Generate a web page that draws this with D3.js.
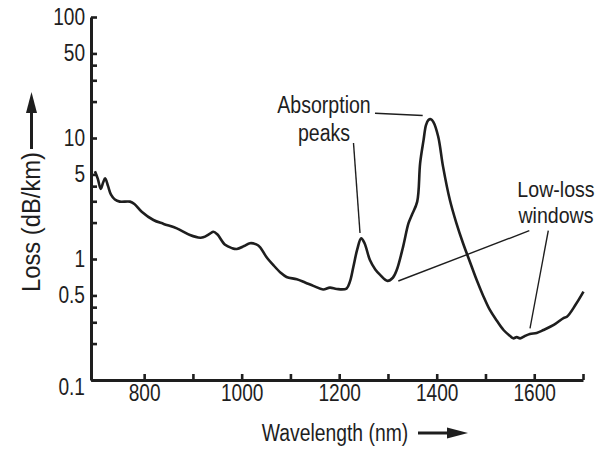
<!DOCTYPE html>
<html>
<head>
<meta charset="utf-8">
<script src="https://cdn.jsdelivr.net/npm/d3@7"></script>
<style>
	body{margin:0;background:#fff;}
	svg{display:block;}
	text{font-family:"Liberation Sans Narrow","Arial Narrow","Liberation Sans",sans-serif;fill:#1e1e1e;}
	.axis path, .axis line{stroke:#1e1e1e;}
</style>
</head>
<body>
<div id="chart"></div>
<script>
// spectral loss of a silica fibre
const wavelength = [699,705,711,716,720,726,732,740,750,771,780,795,819,840,867,894,915,921,935,942,950,966,980,990,1005,1017,1030,1038,1050,1065,1080,1092,1113,1130,1147,1167,1181,1195,1215,1222,1229,1237,1245,1252,1263,1274,1284,1299,1310,1318,1331,1342,1349,1360,1366,1373,1378,1383,1388,1393,1403,1413,1427,1440,1454,1468,1482,1495,1509,1523,1537,1550,1557,1564,1571,1580,1591,1605,1619,1640,1660,1667,1685,1701];
const loss = [5.3,4.6,3.8,4.3,4.65,4.0,3.4,3.1,2.98,2.98,2.85,2.46,2.10,1.95,1.79,1.58,1.5,1.51,1.62,1.68,1.6,1.31,1.23,1.21,1.28,1.35,1.32,1.25,1.05,0.89,0.77,0.71,0.68,0.64,0.60,0.56,0.58,0.565,0.57,0.65,0.86,1.2,1.48,1.35,0.98,0.82,0.74,0.66,0.70,0.81,1.26,1.97,2.31,2.98,6.2,9.6,12.8,14.1,14.3,13.6,10.3,5.8,3.07,2.0,1.35,0.95,0.67,0.5,0.379,0.31,0.259,0.232,0.221,0.226,0.221,0.23,0.24,0.245,0.259,0.285,0.325,0.333,0.42,0.537];

const xTicks = [800,900,1000,1100,1200,1300,1400,1500,1600,1700];
const xTickLabels = [800,1000,1200,1400,1600];
const yTicks = [0.1,0.2,0.3,0.4,0.5,1,2,3,4,5,10,20,30,40,50,100];
const yTickLabels = [0.1,0.5,1,5,10,50,100];

const W = 605, H = 449;
const margin = {top:17,bottom:69,left:91,right:22};

// no narrow font installed, so squeeze the glyphs horizontally
function condense(sel, k){
	sel.each(function(){
		const len = this.getComputedTextLength();
		if (len > 0) {
			d3.select(this).attr('textLength', len*k).attr('lengthAdjust','spacingAndGlyphs');
		};
	});
}

const svg = d3.select('#chart').append('svg')
	.attr('width',W)
	.attr('height',H);

const x = d3.scaleLinear().domain([691,1700]).range([margin.left, W-margin.right]);
const y = d3.scaleLog().domain([0.1,100]).range([H-margin.bottom, margin.top]);

// axes, ticks pointing into the plot
svg.append('g')
	.attr('class','axis x')
	.attr('transform',`translate(0,${H-margin.bottom})`)
	.call(d3.axisBottom(x).tickValues(xTicks).tickSizeInner(-6).tickSizeOuter(0).tickPadding(5)
		.tickFormat(d => xTickLabels.indexOf(d) > -1 ? d : ''));

svg.append('g')
	.attr('class','axis y')
	.attr('transform',`translate(${margin.left},0)`)
	.call(d3.axisLeft(y).tickValues(yTicks).tickSizeInner(-6).tickSizeOuter(0).tickPadding(6)
		.tickFormat(d => yTickLabels.indexOf(d) > -1 ? d : ''));

svg.selectAll('.axis path').attr('stroke-width',3);
svg.selectAll('.axis line').attr('stroke-width',2.6);
svg.selectAll('.axis text').style('font-size','23px').attr('fill','#1e1e1e');
svg.selectAll('.y .tick text').filter(d => d == 0.1).attr('dy','0.62em');
condense(svg.selectAll('.axis text'), 0.83);

// the loss curve
const line = d3.line()
	.x((d,i) => x(wavelength[i]))
	.y(d => y(d))
	.curve(d3.curveCatmullRom.alpha(0.5));

svg.append('path')
	.datum(loss)
	.attr('d',line)
	.attr('fill','none')
	.attr('stroke','#1e1e1e')
	.attr('stroke-width',2.6)
	.attr('stroke-linejoin','round');

// axis titles with arrows
const xTitle = svg.append('text')
	.attr('x',335).attr('y',441)
	.attr('text-anchor','middle')
	.style('font-size','23px')
	.text('Wavelength (nm)');
condense(xTitle, 0.84);

svg.append('line')
	.attr('x1',418).attr('x2',450).attr('y1',433).attr('y2',433)
	.attr('stroke','#1e1e1e').attr('stroke-width',3);
svg.append('path')
	.attr('d','M447,427.5 L468,433 L447,438.5 Z')
	.attr('fill','#1e1e1e');

const yTitle = svg.append('text')
	.attr('transform','translate(40,222) rotate(-90)')
	.attr('text-anchor','middle')
	.style('font-size','25px')
	.text('Loss (dB/km)');
condense(yTitle, 0.95);

svg.append('line')
	.attr('x1',31.5).attr('x2',31.5).attr('y1',149).attr('y2',110)
	.attr('stroke','#1e1e1e').attr('stroke-width',3);
svg.append('path')
	.attr('d','M26,113 L31.5,92 L37,113 Z')
	.attr('fill','#1e1e1e');

// annotations
const note = svg.append('g').attr('class','notes');

const peakNote = note.append('g');
peakNote.append('text').attr('x',324).attr('y',113).attr('text-anchor','middle').style('font-size','23px').text('Absorption');
peakNote.append('text').attr('x',324).attr('y',141).attr('text-anchor','middle').style('font-size','23px').text('peaks');
condense(peakNote.selectAll('text'), 0.85);

const windowNote = note.append('g');
windowNote.append('text').attr('x',556).attr('y',197).attr('text-anchor','middle').style('font-size','22px').text('Low-loss');
windowNote.append('text').attr('x',556).attr('y',223).attr('text-anchor','middle').style('font-size','22px').text('windows');
condense(windowNote.selectAll('text'), 0.89);

const leaders = [
	[375,113.3,422.7,115.5],
	[353.5,143,360,233],
	[529.3,230.7,398.3,281],
	[548.3,230.7,530,328.3]
];
note.selectAll('.leader').data(leaders).enter().append('line')
	.attr('class','leader')
	.attr('x1',d => d[0]).attr('y1',d => d[1])
	.attr('x2',d => d[2]).attr('y2',d => d[3])
	.attr('stroke','#1e1e1e')
	.attr('stroke-width',1.4);
</script>
</body>
</html>
